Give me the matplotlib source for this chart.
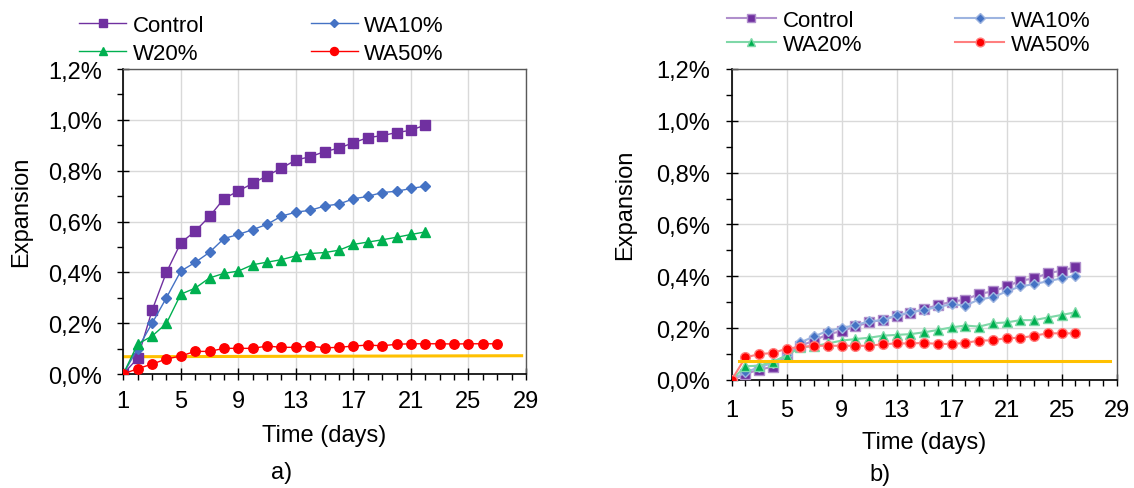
import numpy as np
import matplotlib
matplotlib.use("Agg")
from matplotlib import pyplot as plt
from matplotlib.ticker import MultipleLocator, FuncFormatter

plt.rcParams["font.family"] = ["Liberation Sans", "DejaVu Sans"]

# expansion in percent, one value per day starting at day 1
a_control = [0.0, 0.062, 0.25, 0.40, 0.516, 0.562, 0.62, 0.69, 0.72, 0.75, 0.78,
             0.81, 0.842, 0.855, 0.875, 0.889, 0.91, 0.93, 0.938, 0.95, 0.959, 0.98]
a_wa10 = [0.0, 0.10, 0.199, 0.30, 0.405, 0.439, 0.479, 0.533, 0.549, 0.568, 0.589,
          0.621, 0.637, 0.644, 0.661, 0.669, 0.689, 0.699, 0.714, 0.719, 0.73, 0.739]
a_w20 = [0.0, 0.118, 0.149, 0.199, 0.314, 0.338, 0.378, 0.396, 0.405, 0.43, 0.44,
         0.45, 0.465, 0.474, 0.478, 0.487, 0.51, 0.519, 0.528, 0.538, 0.549, 0.559]
a_wa50 = [0.0, 0.021, 0.039, 0.059, 0.071, 0.089, 0.089, 0.101, 0.101, 0.101, 0.11,
          0.105, 0.105, 0.11, 0.103, 0.105, 0.11, 0.114, 0.111, 0.117, 0.119, 0.119,
          0.119, 0.118, 0.119, 0.119, 0.119]
a_limit_days = [0.95, 28.7]
a_limit = [0.068, 0.072]

b_control = [0.0, 0.023, 0.04, 0.051, 0.095, 0.132, 0.152, 0.177, 0.188, 0.207, 0.222,
             0.233, 0.248, 0.259, 0.274, 0.289, 0.302, 0.31, 0.332, 0.342, 0.361,
             0.383, 0.392, 0.412, 0.422, 0.435]
b_wa10 = [0.0, 0.03, 0.049, 0.066, 0.096, 0.145, 0.168, 0.19, 0.2, 0.212, 0.226,
          0.231, 0.249, 0.261, 0.27, 0.282, 0.292, 0.287, 0.311, 0.319, 0.342,
          0.361, 0.37, 0.381, 0.392, 0.403]
b_wa20 = [0.0, 0.053, 0.055, 0.071, 0.094, 0.126, 0.13, 0.141, 0.152, 0.158, 0.163,
          0.171, 0.174, 0.177, 0.184, 0.193, 0.203, 0.21, 0.206, 0.219, 0.222,
          0.231, 0.231, 0.241, 0.251, 0.261]
b_wa50 = [0.0, 0.087, 0.10, 0.104, 0.121, 0.127, 0.132, 0.132, 0.132, 0.132, 0.132,
          0.138, 0.141, 0.141, 0.143, 0.139, 0.139, 0.143, 0.152, 0.153, 0.162,
          0.162, 0.171, 0.18, 0.18, 0.18]
b_limit_days = [1.5, 28.5]
b_limit = [0.073, 0.073]

PURPLE = "#7030A0"
BLUE = "#4472C4"
GREEN = "#00B050"
RED = "#FF0000"
YELLOW = "#FFC000"


def days(values):
    return np.arange(1, len(values) + 1)


def pct(v, pos):
    return f"{v:.1f}%".replace(".", ",")


def style_axes(ax, xpad):
    ax.set_xlim(1, 29)
    ax.set_ylim(0, 1.2)
    ax.xaxis.set_major_locator(MultipleLocator(4, offset=1))
    ax.xaxis.set_minor_locator(MultipleLocator(1))
    ax.yaxis.set_major_locator(MultipleLocator(0.2))
    ax.yaxis.set_minor_locator(MultipleLocator(0.1))
    ax.yaxis.set_major_formatter(FuncFormatter(pct))
    ax.grid(True, which="major", color="#D9D9D9", linewidth=1.0)
    ax.set_axisbelow(True)
    ax.tick_params(which="major", direction="inout", length=9, width=1,
                   labelsize=17, color="black")
    ax.tick_params(which="minor", direction="out", length=4, width=1, color="black")
    ax.tick_params(axis="x", which="major", pad=xpad)
    ax.tick_params(axis="y", which="major", pad=11)
    for side in ("left", "bottom"):
        ax.spines[side].set_color("black")
        ax.spines[side].set_linewidth(1.2)
    for side in ("top", "right"):
        ax.spines[side].set_color("#595959")
        ax.spines[side].set_linewidth(1.0)
    ax.set_xlabel("Time (days)", fontsize=17)
    ax.set_ylabel("Expansion", fontsize=17)


fig = plt.figure(figsize=(11.34, 4.89), dpi=100)
ax1 = fig.add_axes([0.1087, 0.2331, 0.3551, 0.6237])
ax2 = fig.add_axes([0.6452, 0.2209, 0.3395, 0.6360])

# panel a
ax1.plot(a_limit_days, a_limit, color=YELLOW, linewidth=2.2, zorder=2)
l1, = ax1.plot(days(a_control), a_control, "-s", color=PURPLE, lw=1.0, ms=6.5, zorder=3)
l2, = ax1.plot(days(a_wa10), a_wa10, "-D", color=BLUE, lw=1.0, ms=4.8, zorder=3)
l3, = ax1.plot(days(a_w20), a_w20, "-^", color=GREEN, lw=1.0, ms=6.5, zorder=3)
l4, = ax1.plot(days(a_wa50), a_wa50, "-o", color=RED, lw=1.0, ms=6.8, zorder=3)
style_axes(ax1, 7)
ax1.xaxis.set_label_coords(0.5, -0.165)
ax1.yaxis.set_label_coords(-0.2275, 0.534)
ax1.legend([l1, l3, l2, l4], ["Control", "W20%", "WA10%", "WA50%"], ncol=2,
           loc="center left", bbox_to_anchor=(0.070, 0.917), bbox_transform=fig.transFigure,
           frameon=False, fontsize=16, handlelength=2.1, handletextpad=0.3,
           columnspacing=4.8, labelspacing=0.3, markerscale=0.85, borderpad=0,
           borderaxespad=0)
fig.text(0.2484, 0.033, "a)", fontsize=17, ha="center", va="center")

# panel b: lighter connecting lines
m1, = ax2.plot(days(b_control), b_control, "-s", color="#B08FCC", mfc=PURPLE,
               mec="#B08FCC", lw=1.5, ms=6.5, zorder=3)
m2, = ax2.plot(days(b_wa10), b_wa10, "-D", color="#9DB4E0", mfc=BLUE,
               mec="#9DB4E0", lw=1.5, ms=5.5, zorder=3)
m3, = ax2.plot(days(b_wa20), b_wa20, "-^", color="#7FD8A8", mfc=GREEN,
               mec="#7FD8A8", lw=1.5, ms=6.5, zorder=3)
m4, = ax2.plot(days(b_wa50), b_wa50, "-o", color="#FF7F7F", mfc=RED,
               mec="#FF7F7F", lw=1.5, ms=7, zorder=3)
ax2.plot(b_limit_days, b_limit, color=YELLOW, linewidth=2.2, zorder=4)
style_axes(ax2, 9)
ax2.xaxis.set_label_coords(0.5, -0.165)
ax2.yaxis.set_label_coords(-0.247, 0.566)
ax2.legend([m1, m3, m2, m4], ["Control", "WA20%", "WA10%", "WA50%"], ncol=2,
           loc="center left", bbox_to_anchor=(0.641, 0.932), bbox_transform=fig.transFigure,
           frameon=False, fontsize=16, handlelength=2.2, handletextpad=0.3,
           columnspacing=4.2, labelspacing=0.12, markerscale=0.9, borderpad=0,
           borderaxespad=0)
fig.text(0.776, 0.029, "b)", fontsize=17, ha="center", va="center")

fig.savefig("out.png", dpi=100)
